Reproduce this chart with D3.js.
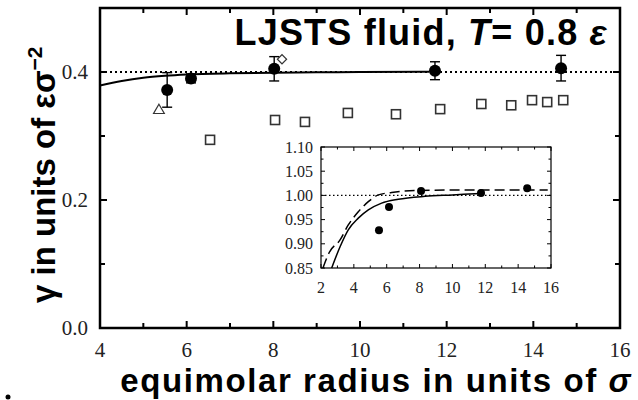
<!DOCTYPE html>
<html lang="en">
<head>
    <meta charset="UTF-8">
    <title>LJSTS surface tension</title>
    <script src="https://d3js.org/d3.v7.min.js"></script>
    <style>
        body { margin: 0; background: #fff; }
    </style>
</head>
<body>
    <div id="chart"></div>
    <script>
        const width = 638;
        const height = 400;

        // main panel data
        const squareR = [6.54, 8.04, 8.73, 9.72, 10.83, 11.85, 12.8, 13.49, 13.97, 14.32, 14.69];
        const squareGamma = [0.294, 0.325, 0.322, 0.336, 0.334, 0.342, 0.35, 0.348, 0.356, 0.353, 0.356];
        const circleR = [5.55, 6.1, 8.02, 11.73, 14.64];
        const circleGamma = [0.372, 0.39, 0.405, 0.402, 0.406];
        const circleErr = [0.027, 0.007, 0.019, 0.014, 0.02];
        const triangleR = [5.36];
        const triangleGamma = [0.34];
        const diamondR = [8.2];
        const diamondGamma = [0.42];
        const fitR = [4.0, 4.5, 5.0, 5.5, 6.0, 7.0, 8.0, 9.0, 10.0, 11.6];
        const fitGamma = [0.379, 0.386, 0.391, 0.394, 0.396, 0.398, 0.399, 0.3995, 0.4, 0.4005];
        const gammaBulk = 0.4;
        const xTicks = [4, 6, 8, 10, 12, 14, 16];
        const yTicks = [0.0, 0.2, 0.4];

        // inset data (gamma / gamma_bulk)
        const insetR = [5.53, 6.14, 8.09, 11.74, 14.55];
        const insetRatio = [0.928, 0.976, 1.009, 1.005, 1.015];
        const dashR = [2.12, 2.5, 3.16, 3.66, 4.27, 4.88, 5.49, 6.3, 7.72, 10, 13, 15.8];
        const dashRatio = [0.85, 0.882, 0.908, 0.939, 0.966, 0.987, 1.001, 1.006, 1.01, 1.011, 1.011, 1.011];
        const solidR = [2.65, 3.16, 3.66, 4.27, 4.88, 5.69, 6.7, 8.33, 10, 11.7];
        const solidRatio = [0.85, 0.894, 0.929, 0.953, 0.970, 0.984, 0.992, 0.998, 1.001, 1.004];
        const insetXTicks = [2, 4, 6, 8, 10, 12, 14, 16];
        const insetYTicks = [0.85, 0.90, 0.95, 1.00, 1.05, 1.10];

        const serif = "'Liberation Serif'";
        const sans = "'Liberation Sans'";

        const svg = d3.select("#chart").append("svg")
            .attr("width", width)
            .attr("height", height);

        const x = d3.scaleLinear().domain([4, 16]).range([100, 620]);
        const y = d3.scaleLinear().domain([0, 0.5]).range([328, 8]);

        // frame with inward ticks on all four sides
        function frame(g, xs, ys, majX, minX, majY, minY, opt) {
            const [x0, x1] = xs.range();
            const [y0, y1] = ys.range();
            g.append("rect")
                .attr("x", x0).attr("y", y1)
                .attr("width", x1 - x0).attr("height", y0 - y1)
                .attr("fill", opt.fill).attr("stroke", "#000")
                .attr("stroke-width", opt.sw);
            const t = g.append("g").attr("stroke", "#000").attr("stroke-width", opt.tw);
            [[majX, opt.maj], [minX, opt.min]].forEach(([vals, len]) => {
                vals.forEach(v => {
                    t.append("line").attr("x1", xs(v)).attr("x2", xs(v)).attr("y1", y0).attr("y2", y0 - len);
                    t.append("line").attr("x1", xs(v)).attr("x2", xs(v)).attr("y1", y1).attr("y2", y1 + len);
                });
            });
            [[majY, opt.maj], [minY, opt.min]].forEach(([vals, len]) => {
                vals.forEach(v => {
                    t.append("line").attr("y1", ys(v)).attr("y2", ys(v)).attr("x1", x0).attr("x2", x0 + len);
                    t.append("line").attr("y1", ys(v)).attr("y2", ys(v)).attr("x1", x1).attr("x2", x1 - len);
                });
            });
        }

        const main = svg.append("g");
        frame(main, x, y, xTicks, [5, 7, 9, 11, 13, 15], yTicks, [0.1, 0.3],
            { fill: "none", sw: 2.5, tw: 2, maj: 7, min: 5 });

        main.selectAll(".xl").data(xTicks).enter().append("text")
            .style("font-family", serif).style("font-size", "21px").attr("fill", "#222")
            .attr("x", d => x(d)).attr("y", 357)
            .attr("text-anchor", "middle")
            .text(d => d);
        main.selectAll(".yl").data(yTicks).enter().append("text")
            .style("font-family", serif).style("font-size", "21px").attr("fill", "#222")
            .attr("x", 88).attr("y", d => y(d)).attr("dy", "0.35em")
            .attr("text-anchor", "end")
            .text(d => d.toFixed(1));

        // bulk value (dotted)
        main.append("line")
            .attr("x1", x(4)).attr("x2", x(16))
            .attr("y1", y(gammaBulk)).attr("y2", y(gammaBulk))
            .attr("stroke", "#000").attr("stroke-width", 2.2)
            .attr("stroke-dasharray", "2,3");

        const fitLine = d3.line().x(d => x(d[0])).y(d => y(d[1])).curve(d3.curveMonotoneX);
        main.append("path")
            .attr("d", fitLine(d3.zip(fitR, fitGamma)))
            .attr("fill", "none").attr("stroke", "#000").attr("stroke-width", 2);

        // open squares
        main.selectAll(".sq").data(d3.zip(squareR, squareGamma)).enter().append("rect")
            .attr("x", d => x(d[0]) - 4.5).attr("y", d => y(d[1]) - 4.5)
            .attr("width", 9).attr("height", 9)
            .attr("fill", "#fff").attr("stroke", "#333").attr("stroke-width", 1.6);

        // triangle and diamond
        main.selectAll(".tri").data(d3.zip(triangleR, triangleGamma)).enter().append("path")
            .attr("d", d3.symbol(d3.symbolTriangle, 50))
            .attr("transform", d => `translate(${x(d[0])},${y(d[1])})`)
            .attr("fill", "#fff").attr("stroke", "#333").attr("stroke-width", 1.2);
        main.selectAll(".dia").data(d3.zip(diamondR, diamondGamma)).enter().append("path")
            .attr("d", d3.symbol(d3.symbolSquare, 42))
            .attr("transform", d => `translate(${x(d[0])},${y(d[1])}) rotate(45)`)
            .attr("fill", "#fff").attr("stroke", "#333").attr("stroke-width", 1.2);

        // filled circles with error bars
        const circ = d3.range(circleR.length);
        const eb = main.append("g").attr("stroke", "#000").attr("stroke-width", 1.4);
        circ.forEach(i => {
            const cx = x(circleR[i]);
            const ya = y(circleGamma[i] + circleErr[i]);
            const yb = y(circleGamma[i] - circleErr[i]);
            eb.append("line").attr("x1", cx).attr("x2", cx).attr("y1", ya).attr("y2", yb);
            eb.append("line").attr("x1", cx - 5).attr("x2", cx + 5).attr("y1", ya).attr("y2", ya);
            eb.append("line").attr("x1", cx - 5).attr("x2", cx + 5).attr("y1", yb).attr("y2", yb);
        });
        main.selectAll(".ci").data(circ).enter().append("circle")
            .attr("cx", i => x(circleR[i])).attr("cy", i => y(circleGamma[i]))
            .attr("r", 6).attr("fill", "#000");

        // inset
        const ix = d3.scaleLinear().domain([2, 16]).range([321, 551]);
        const iy = d3.scaleLinear().domain([0.85, 1.10]).range([268, 147]);
        const inset = svg.append("g");
        frame(inset, ix, iy, insetXTicks, [3, 5, 7, 9, 11, 13, 15], insetYTicks,
            [0.875, 0.925, 0.975, 1.025, 1.075],
            { fill: "#fff", sw: 1.2, tw: 1, maj: 4, min: 2.5 });

        inset.selectAll(".ixl").data(insetXTicks).enter().append("text")
            .style("font-family", serif).style("font-size", "16px").attr("fill", "#222")
            .attr("x", d => ix(d)).attr("y", 293)
            .attr("text-anchor", "middle")
            .text(d => d);
        inset.selectAll(".iyl").data(insetYTicks).enter().append("text")
            .style("font-family", serif).style("font-size", "16px").attr("fill", "#222")
            .attr("x", 313).attr("y", d => iy(d)).attr("dy", "0.35em")
            .attr("text-anchor", "end")
            .text(d => d.toFixed(2));

        inset.append("line")
            .attr("x1", ix(2)).attr("x2", ix(16))
            .attr("y1", iy(1)).attr("y2", iy(1))
            .attr("stroke", "#000").attr("stroke-width", 1.2)
            .attr("stroke-dasharray", "1.5,2.5");

        const insetLine = d3.line().x(d => ix(d[0])).y(d => iy(d[1])).curve(d3.curveMonotoneX);
        inset.append("path")
            .attr("d", insetLine(d3.zip(dashR, dashRatio)))
            .attr("fill", "none").attr("stroke", "#000").attr("stroke-width", 1.5)
            .attr("stroke-dasharray", "10,5");
        inset.append("path")
            .attr("d", insetLine(d3.zip(solidR, solidRatio)))
            .attr("fill", "none").attr("stroke", "#000").attr("stroke-width", 1.5);

        inset.selectAll(".ip").data(d3.zip(insetR, insetRatio)).enter().append("circle")
            .attr("cx", d => ix(d[0])).attr("cy", d => iy(d[1]))
            .attr("r", 4).attr("fill", "#000");

        // title
        const title = svg.append("text")
            .style("font-family", sans).style("font-weight", "bold")
            .attr("x", 608).attr("y", 45).attr("text-anchor", "end")
            .style("font-size", "36px").style("letter-spacing", "1.2px");
        title.append("tspan").text("LJSTS fluid,  ");
        title.append("tspan").style("font-style", "italic").text("T");
        title.append("tspan").text("= 0.8 ");
        title.append("tspan").style("font-style", "italic").text("ε");

        // axis labels
        const xl = svg.append("text")
            .style("font-family", sans).style("font-weight", "bold")
            .attr("x", 632).attr("y", 392).attr("text-anchor", "end")
            .style("font-size", "33px").style("letter-spacing", "1.6px");
        xl.append("tspan").text("equimolar radius in units of ");
        xl.append("tspan").style("font-style", "italic").text("σ");

        const yl = svg.append("text")
            .style("font-family", sans).style("font-weight", "bold")
            .attr("transform", "translate(55,303) rotate(-90)")
            .style("font-size", "33px");
        yl.append("tspan").text("γ in units of εσ");
        yl.append("tspan").attr("dy", -13).style("font-size", "21px").text("−2");

        svg.append("circle").attr("cx", 8).attr("cy", 397).attr("r", 2.5).attr("fill", "#000");
    </script>
</body>
</html>
